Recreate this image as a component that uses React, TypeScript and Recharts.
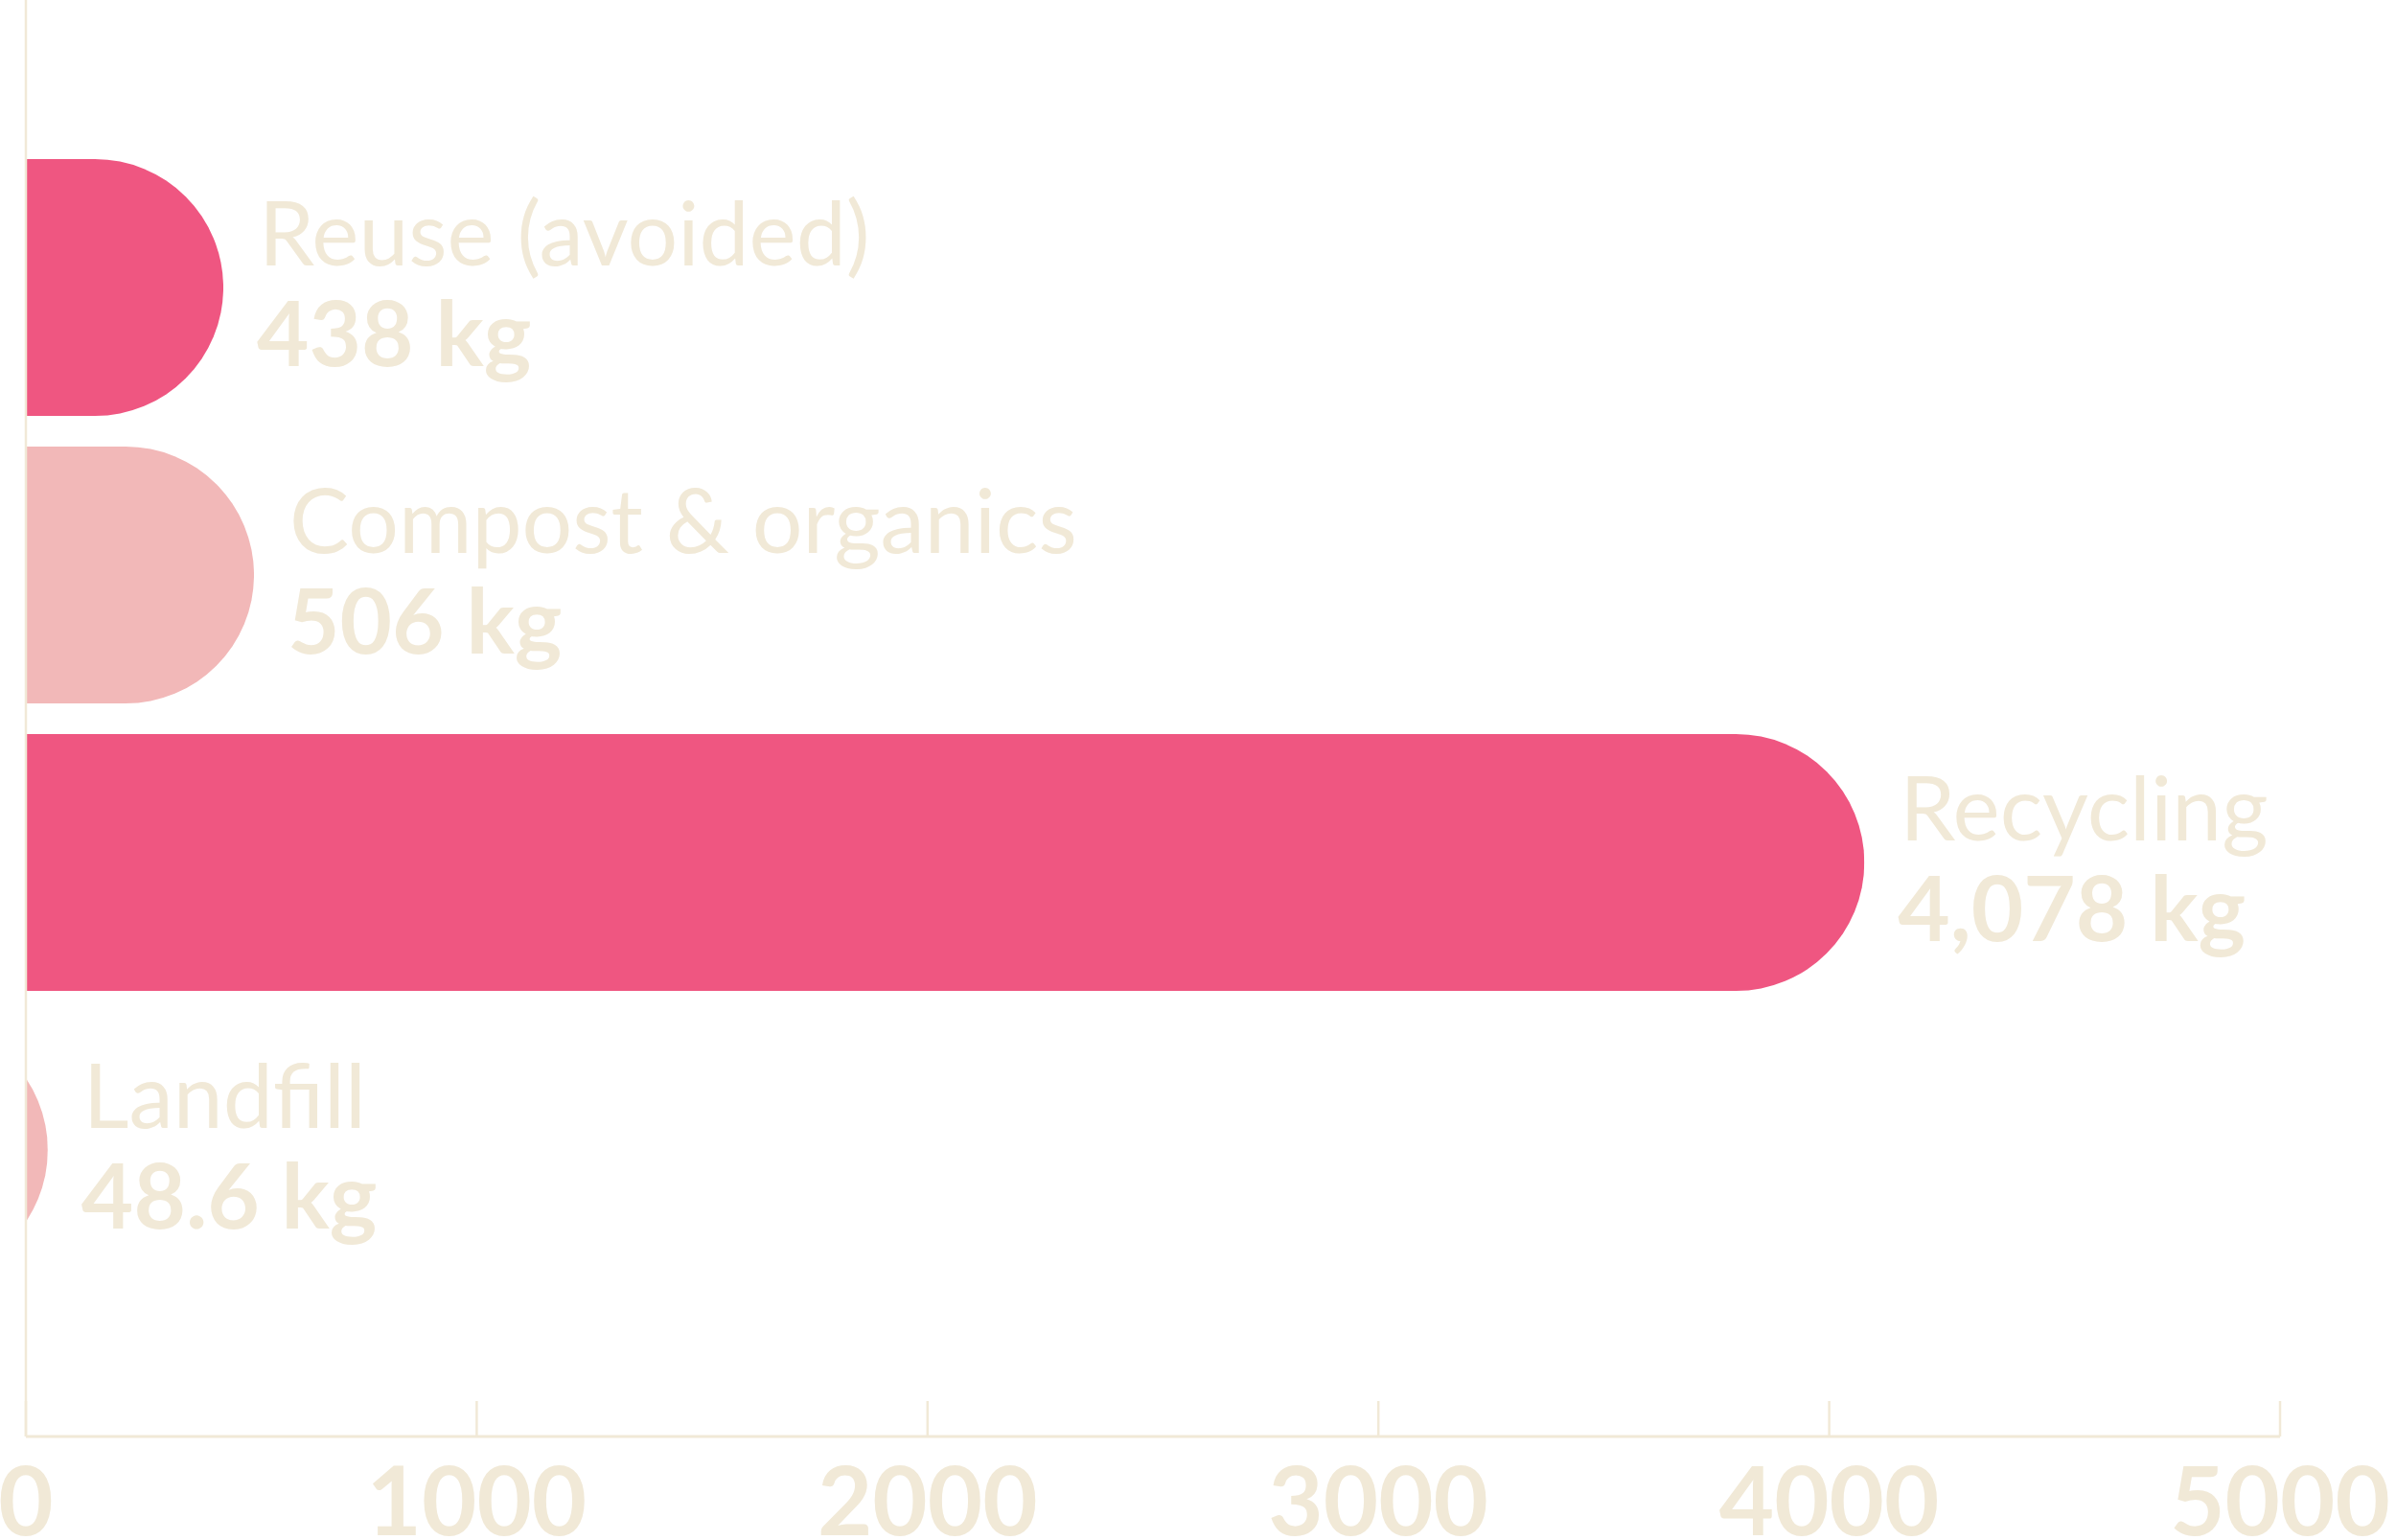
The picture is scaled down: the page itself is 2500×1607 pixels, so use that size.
import React from 'react';
import { BarChart, Bar, XAxis, YAxis, Cell, LabelList } from 'recharts';

// waste streams, kg
const categories = ['Reuse (avoided)', 'Compost & organics', 'Recycling', 'Landfill'];
const amounts = [438, 506, 4078, 48.6];
const amountLabels = ['438 kg', '506 kg', '4,078 kg', '48.6 kg'];
const xTicks = [0, 1000, 2000, 3000, 4000, 5000];
const barColors = ['#EF5681', '#F2B8B8', '#EF5681', '#F2B8B8'];

const CREAM = '#F1E9D7';
const FONT = 'Lato, "Open Sans", sans-serif';

const data = categories.map((name, i) => ({ name, amount: amounts[i] }));

// rounded end with a full half-circle, clipped at the axis for short bars
const PillBar = (props: any) => {
  const { x, y, width, height, fill, index } = props;
  const r = height / 2;
  const end = x + width;
  const start = Math.min(x, end - r);
  const id = `pill-clip-${index}`;
  const d = `M${start},${y} L${end - r},${y} A${r},${r} 0 0 1 ${end - r},${y + height} L${start},${y + height} Z`;
  return (
    <g>
      <defs>
        <clipPath id={id}>
          <rect x={x} y={y} width={width} height={height} />
        </clipPath>
      </defs>
      <path d={d} fill={fill} clipPath={`url(#${id})`} />
    </g>
  );
};

const BarLabel = (props: any) => {
  const { x, y, width, height, index } = props;
  const tx = x + width + 37;
  const cy = y + height / 2;
  return (
    <g>
      <text x={tx} y={cy - 23} fill={CREAM} fontFamily={FONT} fontWeight={400} fontSize={93}>
        {categories[index]}
      </text>
      <text x={tx - 2} y={cy + 82} fill={CREAM} fontFamily={FONT} fontWeight={700} fontSize={94}>
        {amountLabels[index]}
      </text>
    </g>
  );
};

const AxisTick = ({ x, y, payload }: any) => (
  <g>
    <line x1={x} x2={x} y1={y - 37} y2={y} stroke={CREAM} strokeWidth={2.5} />
    <text x={x} y={y + 103} textAnchor="middle" fill={CREAM} fontFamily={FONT} fontWeight={700} fontSize={99}>
      {payload.value}
    </text>
  </g>
);

export default function App() {
  return (
    <div style={{ width: 2500, height: 1607, overflow: 'hidden', background: '#fff' }}>
      <style>{'body{margin:0}'}</style>
      <BarChart
        width={2500}
        height={1607}
        data={data}
        layout="vertical"
        margin={{ top: 0, right: 121, left: 0, bottom: 0 }}
      >
        <XAxis
          type="number"
          domain={[0, 5000]}
          ticks={xTicks}
          interval={0}
          height={108}
          axisLine={{ stroke: CREAM, strokeWidth: 3 }}
          tickLine={false}
          tickSize={0}
          tickMargin={0}
          tick={<AxisTick />}
        />
        <YAxis
          type="category"
          dataKey="name"
          width={27}
          padding={{ top: 150, bottom: 149 }}
          axisLine={{ stroke: CREAM, strokeWidth: 2.5 }}
          tick={false}
          tickLine={false}
        />
        <Bar dataKey="amount" barSize={268} shape={<PillBar />} isAnimationActive={false}>
          {data.map((d, i) => (
            <Cell key={d.name} fill={barColors[i]} />
          ))}
          <LabelList dataKey="amount" content={<BarLabel />} />
        </Bar>
      </BarChart>
    </div>
  );
}
